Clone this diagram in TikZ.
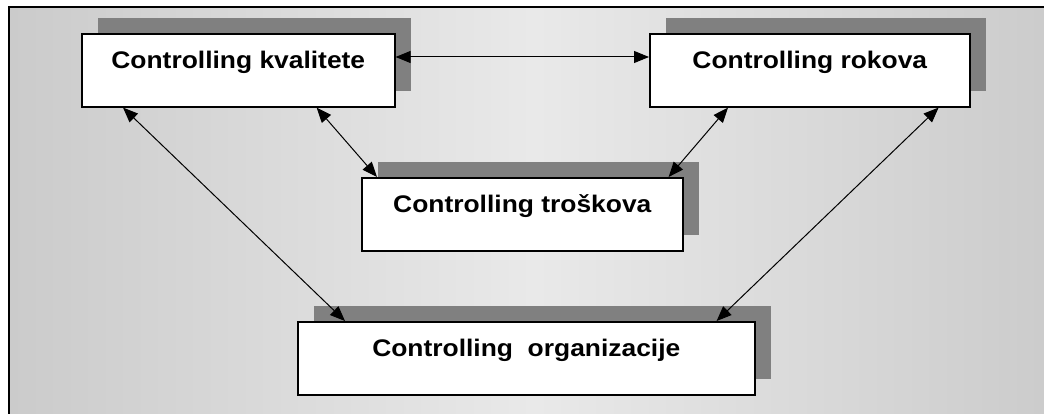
\documentclass[tikz,border=0pt]{standalone}
\usepackage{fontspec}
\newfontfamily\boxfont[FakeStretch=1.1]{Liberation Sans}
\usetikzlibrary{arrows.meta,shadows}
\definecolor{bgside}{HTML}{CBCBCB}
\definecolor{bgmid}{HTML}{E9E9E9}
\definecolor{shadowgray}{HTML}{808080}
\tikzset{
  ctrlbox/.style={draw, line width=1.6pt, fill=white, inner sep=0pt, anchor=north west,
    text height=35pt, text depth=38pt,
    font=\boxfont\bfseries\fontsize{24}{28}\selectfont,
    general shadow={fill=shadowgray, shadow xshift=16pt, shadow yshift=16pt}},
  link/.style={{Triangle[length=15pt,width=12pt]}-{Triangle[length=15pt,width=12pt]}, line width=1pt},
}
\begin{document}
\begin{tikzpicture}[x=1pt,y=-1pt]
\useasboundingbox (0,0) rectangle (1044,414);
\clip (0,0) rectangle (1044,414);
% okvir
\draw[line width=2pt, left color=bgside, right color=bgside, middle color=bgmid] (9,7) rectangle (1060,430);
% blokovi
\node[ctrlbox, minimum width=313pt] (kval) at (81,33) {Controlling kvalitete};
\node[ctrlbox, minimum width=320pt] (rok) at (649,33) {Controlling rokova};
\node[ctrlbox, minimum width=321pt] (trosk) at (361,177) {Controlling troškova};
\node[ctrlbox, minimum width=457pt] (org) at (297,321) {Controlling\ \ organizacije};
% veze
\draw[link] ([yshift=-24pt]kval.north east) -- ([yshift=-24pt]rok.north west);
\draw[link] ([xshift=42pt]kval.south west) -- ([xshift=48pt]org.north west);
\draw[link] ([xshift=-79pt]kval.south east) -- ([xshift=16pt]trosk.north west);
\draw[link] ([xshift=79pt]rok.south west) -- ([xshift=-15pt]trosk.north east);
\draw[link] ([xshift=-32pt]rok.south east) -- ([xshift=-39pt]org.north east);
\end{tikzpicture}
\end{document}
